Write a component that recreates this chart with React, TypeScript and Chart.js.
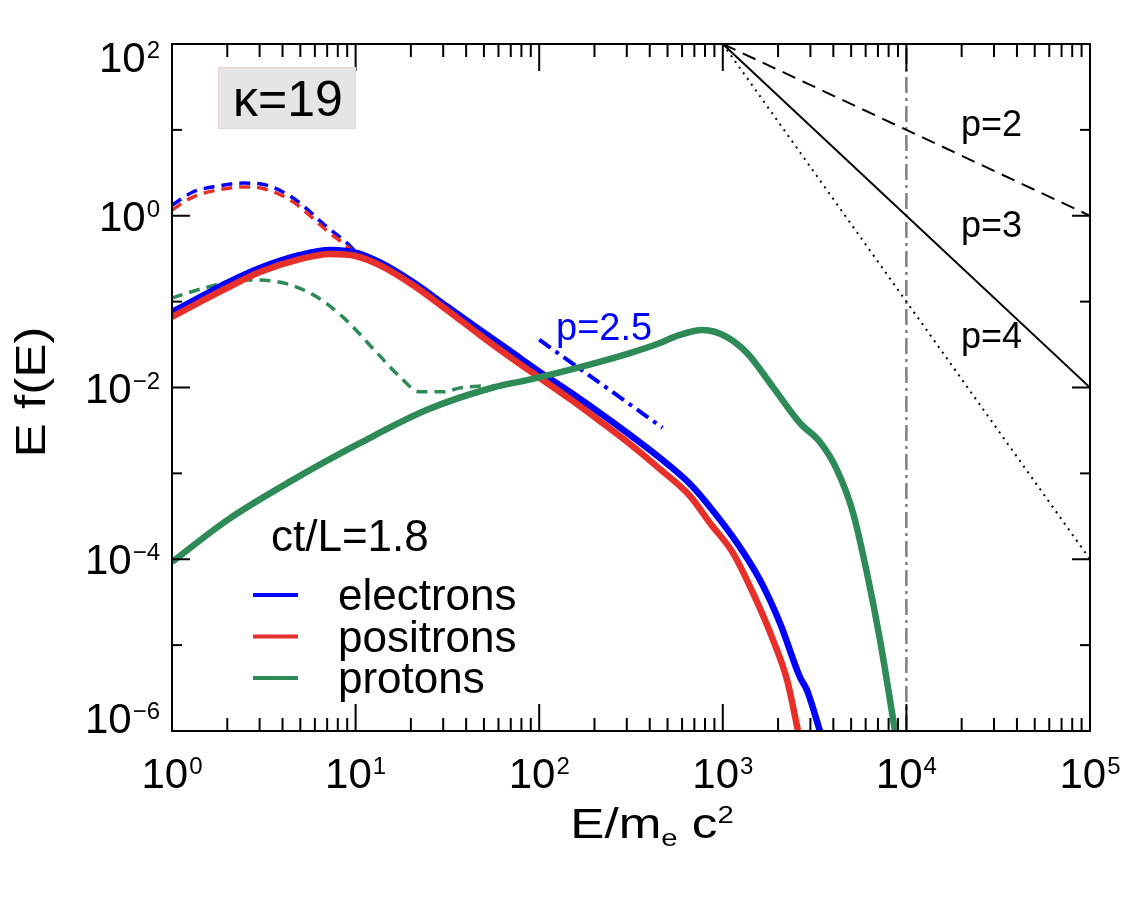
import { useEffect, useRef } from "react";
import { Chart, registerables } from "chart.js";
Chart.register(...registerables);

const W = 1146;
const H = 917;
const FONT = '"Liberation Sans", Arial, Helvetica, sans-serif';

// ---- data (E/mec^2, E f(E)) ----
const electronE = [1, 1.42, 1.99, 3.01, 4.98, 7.26, 10.0, 13.6, 20.5, 31.5, 47.6, 69.4, 101, 147, 214, 312, 455, 663, 851, 1195, 1595, 2048, 2630, 2872, 3383];
const electronF = [0.0757, 0.113, 0.165, 0.246, 0.349, 0.399, 0.373, 0.286, 0.169, 0.0877, 0.0468, 0.0266, 0.0151, 0.00887, 0.00505, 0.0028, 0.00151, 0.000752, 0.000406, 0.000155, 0.0000573, 0.0000181, 0.00000426, 0.000003, 0.000001];

const positronE = [1, 1.42, 1.99, 3.01, 4.98, 7.26, 10.0, 13.6, 20.5, 31.5, 47.6, 69.4, 101, 147, 214, 312, 455, 663, 851, 1137, 1460, 1877, 2238, 2570];
const positronF = [0.0662, 0.099, 0.144, 0.221, 0.313, 0.359, 0.340, 0.264, 0.156, 0.0798, 0.0408, 0.0226, 0.0129, 0.00735, 0.00407, 0.0022, 0.00112, 0.000545, 0.000264, 0.000118, 0.0000405, 0.0000115, 0.00000393, 0.000001];

const protonE = [1, 2, 4.56, 10.6, 24.5, 56, 86, 167, 312, 455, 563, 780, 1054, 1355, 1877, 2630, 3383, 4188, 5117, 6100, 7180, 8670];
const protonF = [0.000093, 0.000286, 0.00084, 0.00226, 0.0055, 0.0100, 0.0122, 0.0173, 0.0252, 0.033, 0.040, 0.0467, 0.0387, 0.0252, 0.0101, 0.00386, 0.00232, 0.0011, 0.00035, 0.000069, 0.0000115, 0.000001];

// initial distributions (dashed)
const electron0E = [1, 1.3, 1.78, 2.44, 3.2, 4.56, 6.98, 8.98, 9.8];
const electron0F = [1.33, 1.89, 2.22, 2.4, 2.3, 1.61, 0.74, 0.48, 0.40];
const positron0E = [1, 1.3, 1.78, 2.44, 3.2, 4.56, 6.98, 8.98, 9.8];
const positron0F = [1.17, 1.65, 2.0, 2.16, 2.05, 1.45, 0.67, 0.44, 0.37];
const proton0E = [1, 1.5, 2.44, 3.5, 5.65, 8.54, 13.1, 17.5, 22.4, 30, 37, 52];
const proton0F = [0.110, 0.144, 0.179, 0.174, 0.126, 0.066, 0.0252, 0.0132, 0.0089, 0.0089, 0.0099, 0.0105];

// reference power laws
const fitE = [100, 470];
const fitF = [0.036, 0.0034];
const refE = [1000, 100000];
const refP2 = [100, 1];
const refP3 = [100, 0.01];
const refP4 = [100, 0.0001];
const vlineE = [10000, 10000];
const vlineF = [0.000001, 100];

// axes
const xMajor = [1, 10, 100, 1000, 10000, 100000];
const xMajorExp = ["0", "1", "2", "3", "4", "5"];
const xMinorMult = [2, 3, 4, 5, 6, 7, 8, 9];
const yMajor = [100, 1, 0.01, 0.0001, 0.000001];
const yMajorExp = ["2", "0", "\u22122", "\u22124", "\u22126"];
const yMinor = [10, 0.1, 0.001, 0.00001];

const legendLabels = ["electrons", "positrons", "protons"];
const BLUE = "#0000ff";
const RED = "#e8302a";
const GREEN = "#2e8b57";
const legendColors = [BLUE, RED, GREEN];

const xy = (E: number[], F: number[]) => E.map((x, i) => ({ x, y: F[i] }));

function pow10(ctx: CanvasRenderingContext2D, exp: string, x: number, baseline: number, align: "center" | "right") {
  const bs = 42, es = 24;
  ctx.font = `${bs}px ${FONT}`;
  const bw = ctx.measureText("10").width;
  ctx.font = `${es}px ${FONT}`;
  const ew = ctx.measureText(exp).width;
  const gap = 1;
  const total = bw + gap + ew;
  const x0 = align === "center" ? x - total / 2 : x - total;
  ctx.textAlign = "left";
  ctx.textBaseline = "alphabetic";
  ctx.font = `${bs}px ${FONT}`;
  ctx.fillText("10", x0, baseline);
  ctx.font = `${es}px ${FONT}`;
  ctx.fillText(exp, x0 + bw + gap, baseline - bs * 0.716 + es * 0.716 - 1);
}

function stretched(ctx: CanvasRenderingContext2D, s: string, x: number, y: number, sx: number) {
  ctx.save();
  ctx.translate(x, y);
  ctx.scale(sx, 1);
  ctx.fillText(s, 0, 0);
  ctx.restore();
}

const decor = {
  id: "decor",
  afterDraw(chart: any) {
    const ctx: CanvasRenderingContext2D = chart.ctx;
    const xs = chart.scales.x;
    const ys = chart.scales.y;
    const { left, right, top, bottom } = chart.chartArea;
    ctx.save();
    ctx.strokeStyle = "#000";
    ctx.fillStyle = "#000";
    ctx.lineWidth = 2;
    ctx.strokeRect(left, top, right - left, bottom - top);
    const seg = (x1: number, y1: number, x2: number, y2: number) => {
      ctx.beginPath();
      ctx.moveTo(x1, y1);
      ctx.lineTo(x2, y2);
      ctx.stroke();
    };
    // x ticks
    xMajor.forEach((v, i) => {
      const px = xs.getPixelForValue(v);
      seg(px, bottom, px, bottom - 27);
      seg(px, top, px, top + 27);
      if (i < xMajor.length - 1) {
        xMinorMult.forEach((m) => {
          const p = xs.getPixelForValue(v * m);
          seg(p, bottom, p, bottom - 13);
          seg(p, top, p, top + 13);
        });
      }
      pow10(ctx, xMajorExp[i], px, 788, "center");
    });
    // y ticks
    yMajor.forEach((v, i) => {
      const py = ys.getPixelForValue(v);
      seg(left, py, left + 18, py);
      seg(right, py, right - 18, py);
      let c = py;
      if (i === 0) c += 13;
      if (i === yMajor.length - 1) c -= 13;
      pow10(ctx, yMajorExp[i], 160, c + 15, "right");
    });
    yMinor.forEach((v) => {
      const py = ys.getPixelForValue(v);
      seg(left, py, left + 10, py);
      seg(right, py, right - 10, py);
    });

    // axis titles
    ctx.textBaseline = "alphabetic";
    ctx.textAlign = "left";
    const SX = 1.22;
    {
      const big = `42px ${FONT}`;
      const small = `24px ${FONT}`;
      ctx.font = big;
      const w1 = ctx.measureText("E/m").width * SX;
      const w3 = ctx.measureText(" c").width * SX;
      ctx.font = small;
      const w2 = ctx.measureText("e").width * SX;
      const w4 = ctx.measureText("2").width * SX;
      const total = w1 + w2 + w3 + w4;
      let x = 652 - total / 2;
      const base = 838;
      ctx.font = big;
      stretched(ctx, "E/m", x, base, SX);
      x += w1;
      ctx.font = small;
      stretched(ctx, "e", x, base + 8, SX);
      x += w2;
      ctx.font = big;
      stretched(ctx, " c", x, base, SX);
      x += w3;
      ctx.font = small;
      stretched(ctx, "2", x, base - 15, SX);
    }
    ctx.save();
    ctx.translate(45, 392);
    ctx.rotate(-Math.PI / 2);
    ctx.font = `42px ${FONT}`;
    ctx.textAlign = "center";
    ctx.scale(SX, 1);
    ctx.fillText("E f(E)", 0, 0);
    ctx.restore();

    // kappa box
    ctx.fillStyle = "#e5e5e5";
    ctx.fillRect(218, 67, 138, 62);
    ctx.strokeStyle = "rgba(240,200,200,0.6)";
    ctx.lineWidth = 1;
    ctx.strokeRect(218.5, 67.5, 137, 61);
    ctx.fillStyle = "#000";
    ctx.font = `50px ${FONT}`;
    ctx.textAlign = "center";
    ctx.fillText("\u03ba=19", 288, 116);

    // power-law labels
    ctx.textAlign = "left";
    ctx.font = `36px ${FONT}`;
    ctx.fillText("p=2", 961, 136);
    ctx.fillText("p=3", 961, 237);
    ctx.fillText("p=4", 961, 348);
    ctx.fillStyle = BLUE;
    ctx.font = `38px ${FONT}`;
    ctx.fillText("p=2.5", 556, 340);

    // legend
    ctx.fillStyle = "#000";
    ctx.font = `44px ${FONT}`;
    ctx.fillText("ct/L=1.8", 271, 551);
    legendLabels.forEach((lab, i) => {
      const y = 595 + i * 41.5;
      ctx.strokeStyle = legendColors[i];
      ctx.lineWidth = 4;
      seg(253, y, 298, y);
      ctx.fillStyle = "#000";
      ctx.fillText(lab, 338, y + 15);
    });
    ctx.restore();
  },
};

export default function App() {
  const ref = useRef<HTMLCanvasElement>(null);
  useEffect(() => {
    document.body.style.margin = "0";
    const canvas = ref.current!;
    const solid = (E: number[], F: number[], color: string) => ({
      data: xy(E, F),
      borderColor: color,
      borderWidth: 6.5,
      pointRadius: 0,
      cubicInterpolationMode: "monotone" as const,
      fill: false,
      clip: 0,
    });
    const dashed = (E: number[], F: number[], color: string) => ({
      data: xy(E, F),
      borderColor: color,
      borderWidth: 3.5,
      borderDash: [11, 7],
      pointRadius: 0,
      cubicInterpolationMode: "monotone" as const,
      fill: false,
      clip: 0,
    });
    const ref2 = (E: number[], F: number[], color: string, dash: number[], w: number) => ({
      data: xy(E, F),
      borderColor: color,
      borderWidth: w,
      borderDash: dash,
      pointRadius: 0,
      tension: 0,
      fill: false,
      clip: 0,
    });
    const chart = new Chart(canvas, {
      type: "line",
      data: {
        datasets: [
          solid(protonE, protonF, GREEN),
          solid(positronE, positronF, RED),
          solid(electronE, electronF, BLUE),
          dashed(proton0E, proton0F, GREEN),
          dashed(positron0E, positron0F, RED),
          dashed(electron0E, electron0F, BLUE),
          ref2(fitE, fitF, BLUE, [14, 6, 4, 6], 4),
          ref2(refE, refP2, "#000", [14, 8], 2),
          ref2(refE, refP3, "#000", [], 2),
          ref2(refE, refP4, "#000", [2, 5], 2),
          ref2(vlineE, vlineF, "#808080", [16, 5, 3, 5], 2.5),
        ] as any,
      },
      options: {
        responsive: false,
        animation: false,
        layout: { padding: { left: 172, right: 56, top: 44, bottom: 186 } },
        plugins: { legend: { display: false }, tooltip: { enabled: false } },
        scales: {
          x: { type: "logarithmic", min: 1, max: 100000, display: false },
          y: { type: "logarithmic", min: 0.000001, max: 100, display: false },
        },
      },
      plugins: [decor],
    });
    return () => chart.destroy();
  }, []);
  return (
    <div style={{ width: W, height: H, background: "#fff" }}>
      <canvas ref={ref} width={W} height={H} style={{ display: "block", width: W, height: H }} />
    </div>
  );
}
